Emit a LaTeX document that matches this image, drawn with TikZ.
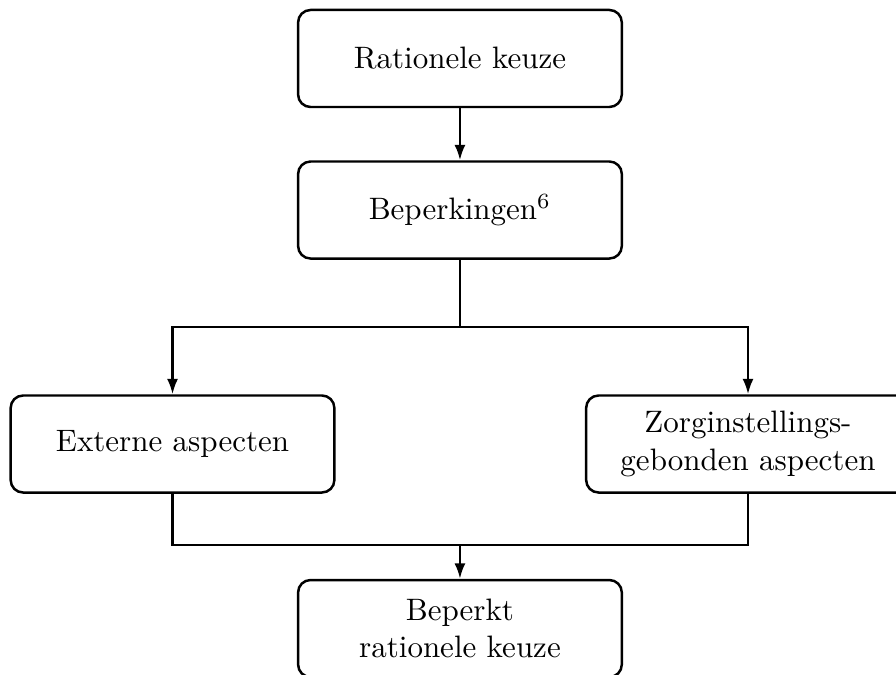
\documentclass[tikz,border=0pt]{standalone}
\usepackage{tikz}
\usetikzlibrary{arrows.meta}

\begin{document}
\begin{tikzpicture}[
		blok/.style={draw, thick, rounded corners=4pt, align=center, minimum width=3.67cm, minimum height=1.1cm},
		pijl/.style={thick, -{Latex[length=5pt,width=3.6pt]}}
	]
			%%%%% START %%%%%
			\useasboundingbox (0, 0) rectangle (10.159, -7.653);
			
			\node[blok] (rationeel) at (5.215, -0.663) {Rationele keuze};
			\node[blok] (beperking) at (5.215, -2.381) {Beperkingen$^6$};
			\node[blok] (extern) at (1.956, -5.034) {Externe aspecten};
			\node[blok] (zorg) at (8.481, -5.034) {Zorginstellings-\\gebonden aspecten};
			\node[blok] (beperkt) at (5.215, -7.126) {Beperkt\\rationele keuze};
			
			\coordinate (splits) at (5.215, -3.707);
			\coordinate (samen) at (5.215, -6.179);
			
			\draw[pijl] (rationeel) -- (beperking);
			\draw[thick] (beperking) -- (splits);
			\draw[pijl] (splits) -| (extern);
			\draw[pijl] (splits) -| (zorg);
			
			\draw[thick] (extern) |- (samen);
			\draw[thick] (zorg) |- (samen);
			\draw[pijl] (samen) -- (beperkt);
			%%%%% END %%%%%
\end{tikzpicture}
\end{document}
